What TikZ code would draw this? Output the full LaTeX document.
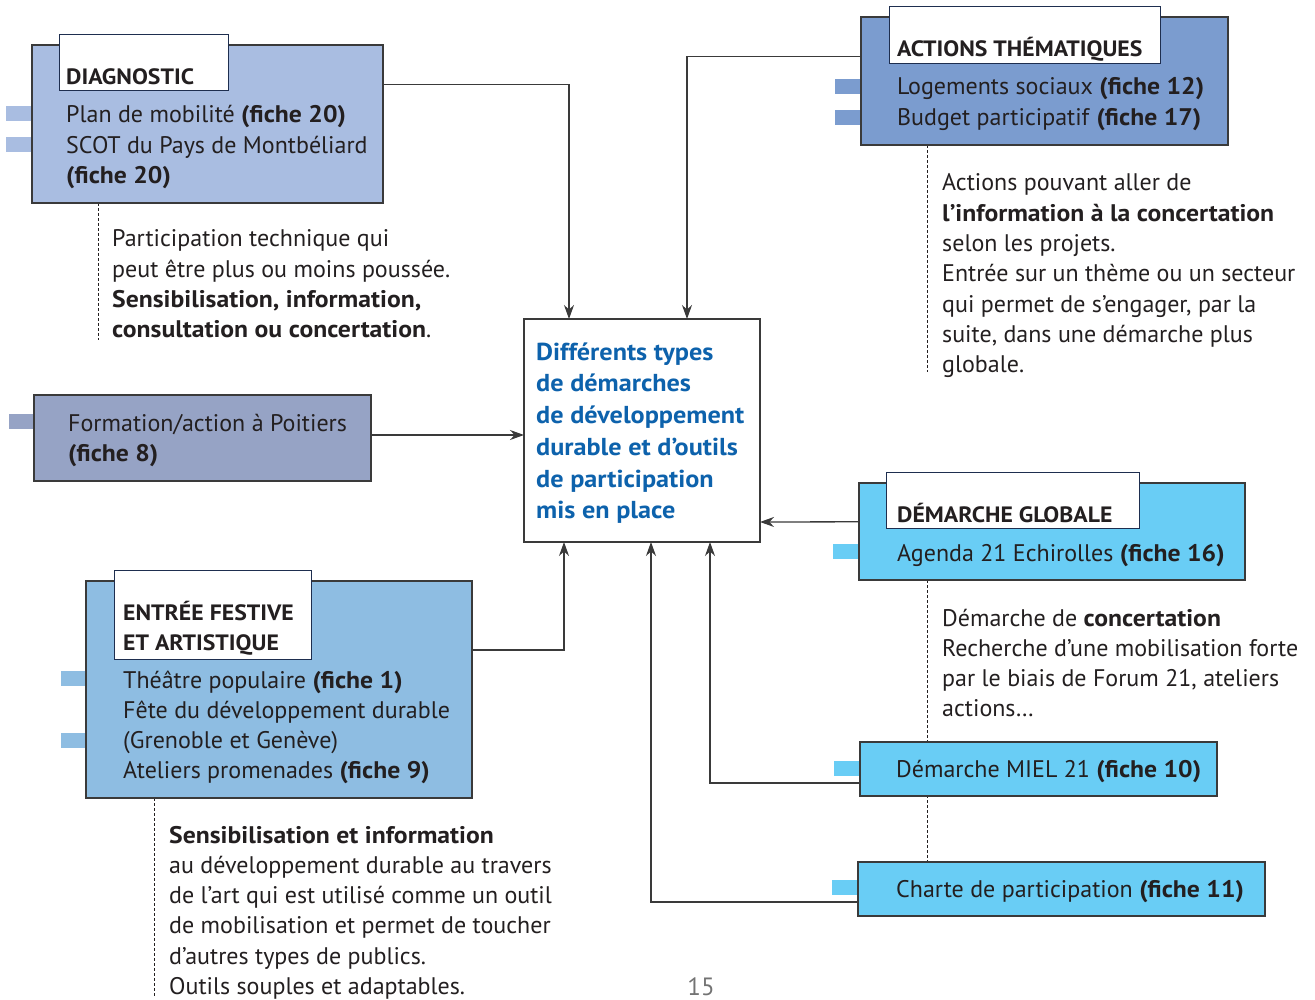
\documentclass[tikz,border=0pt]{standalone}
\usepackage{fontspec}
\setmainfont{PT Sans}[BoldFeatures={FakeStretch=1.07}]
\usetikzlibrary{calc,arrows.meta,backgrounds}
\definecolor{diagc}{HTML}{A9BDE1}
\definecolor{formc}{HTML}{96A3C5}
\definecolor{actc}{HTML}{7B9CCF}
\definecolor{festc}{HTML}{8EBDE2}
\definecolor{globc}{HTML}{69CDF5}
\definecolor{edgec}{HTML}{3A3A3A}
\definecolor{tabedge}{HTML}{1E2E4F}
\definecolor{txt}{HTML}{231F20}
\definecolor{centc}{HTML}{0D62AC}
\newcommand{\ptxt}[2][30cm]{\parbox[t]{#1}{\raggedright #2}}
\tikzset{
  x=1pt, y=-1pt,
  boxshape/.style={draw=edgec, line width=1.3pt, anchor=north west, inner sep=0pt, outer sep=0pt},
  tabshape/.style={draw=tabedge, fill=white, line width=1pt, anchor=north west, inner sep=0pt, outer sep=0pt},
  barshape/.style={anchor=north west, inner sep=0pt, outer sep=0pt, minimum width=26pt, minimum height=15pt},
  body/.style={anchor=base west, inner sep=0pt, text=txt, font=\fontsize{24}{30.3}\selectfont},
  ttl/.style={anchor=base west, inner sep=0pt, text=txt, font=\fontsize{22.2}{30.3}\selectfont\bfseries},
  cent/.style={anchor=base west, inner sep=0pt, text=centc, font=\fontsize{24.5}{31.8}\selectfont\bfseries},
  conn/.style={draw=edgec, line width=1.3pt, -{Stealth[length=14pt,width=10pt]}},
  dashconn/.style={draw=txt, line width=1pt, dash pattern=on 3pt off 2pt},
}
\begin{document}
\begin{tikzpicture}
\useasboundingbox (0,0) rectangle (1315,1000);

% ---------- DIAGNOSTIC ----------
\node[barshape, fill=diagc] (db1) at (6,106) {};
\node[barshape, fill=diagc] (db2) at (6,137) {};
\node[boxshape, fill=diagc, minimum width=351pt, minimum height=158pt] (diag) at (32,45) {};
\node[tabshape, minimum width=169pt, minimum height=56pt] (diagtab) at (59,35) {};
\node[ttl] (diagt) at (66,85) {DIAGNOSTIC};
\node[body] (diagl) at (66,123) {\ptxt{Plan de mobilité \textbf{(fiche 20)}\\SCOT du Pays de Montbéliard\\\textbf{(fiche 20)}}};
\node[body] (diagn) at (112,247) {\ptxt{Participation technique qui\\peut être plus ou moins poussée.\\\textbf{Sensibilisation, information,}\\\textbf{consultation ou concertation}.}};

% ---------- FORMATION ----------
\node[barshape, fill=formc] (fb1) at (9,414) {};
\node[boxshape, fill=formc, minimum width=337pt, minimum height=86pt] (form) at (34,395) {};
\node[body] (forml) at (68,431) {\ptxt{Formation/action à Poitiers\\\textbf{(fiche 8)}}};

% ---------- CENTRE ----------
\node[boxshape, fill=white, minimum width=236pt, minimum height=223pt] (center) at (524,319) {};
\node[cent] (centt) at (536,360) {\ptxt{Différents types\\de démarches\\de développement\\durable et d’outils\\de participation\\mis en place}};

% ---------- ACTIONS THEMATIQUES ----------
\node[barshape, fill=actc] (ab1) at (835,79) {};
\node[barshape, fill=actc] (ab2) at (835,110) {};
\node[boxshape, fill=actc, minimum width=367pt, minimum height=128pt] (act) at (861,17) {};
\node[tabshape, minimum width=271pt, minimum height=57pt] (acttab) at (889,7) {};
\node[ttl] (actt) at (897,57) {ACTIONS THÉMATIQUES};
\node[body] (actl) at (897,95) {\ptxt{Logements sociaux \textbf{(fiche 12)}\\Budget participatif \textbf{(fiche 17)}}};
\node[body] (actn) at (942,191) {\ptxt{Actions pouvant aller de\\\textbf{l’information à la concertation}\\selon les projets.\\Entrée sur un thème ou un secteur\\qui permet de s’engager, par la\\suite, dans une démarche plus\\globale.}};

% ---------- DEMARCHE GLOBALE ----------
\node[barshape, fill=globc] (gb1) at (833,544) {};
\node[boxshape, fill=globc, minimum width=386pt, minimum height=97pt] (glob) at (859,483) {};
\node[tabshape, minimum width=253pt, minimum height=56pt] (globtab) at (886,472) {};
\node[ttl] (globt) at (897,522) {DÉMARCHE GLOBALE};
\node[body] (globl) at (897,561) {Agenda 21 Echirolles \textbf{(fiche 16)}};
\node[body] (globn) at (942,626) {\ptxt{Démarche de \textbf{concertation}\\Recherche d’une mobilisation forte\\par le biais de Forum 21, ateliers\\actions…}};

% ---------- MIEL ----------
\node[barshape, fill=globc] (mb1) at (834,761) {};
\node[boxshape, fill=globc, minimum width=357pt, minimum height=54pt] (miel) at (860,742) {};
\node[body] (miell) at (896,777) {Démarche MIEL 21 \textbf{(fiche 10)}};

% ---------- CHARTE ----------
\node[barshape, fill=globc] (cb1) at (832,880) {};
\node[boxshape, fill=globc, minimum width=407pt, minimum height=54pt] (charte) at (858,862) {};
\node[body] (chartel) at (896,897) {Charte de participation \textbf{(fiche 11)}};

% ---------- ENTREE FESTIVE ----------
\node[barshape, fill=festc] (eb1) at (61,671) {};
\node[barshape, fill=festc] (eb2) at (61,733) {};
\node[boxshape, fill=festc, minimum width=386pt, minimum height=217pt] (fest) at (86,581) {};
\node[tabshape, minimum width=197pt, minimum height=89pt] (festtab) at (114,570) {};
\node[ttl] (festt) at (123,620) {\ptxt{ENTRÉE FESTIVE\\ET ARTISTIQUE}};
\node[body] (festl) at (123,688) {\ptxt{Théâtre populaire \textbf{(fiche 1)}\\Fête du développement durable\\(Grenoble et Genève)\\Ateliers promenades \textbf{(fiche 9)}}};
\node[body] (festn) at (169,843) {\ptxt{\textbf{Sensibilisation et information}\\au développement durable au travers\\de l’art qui est utilisé comme un outil\\de mobilisation et permet de toucher\\d’autres types de publics.\\Outils souples et adaptables.}};

% ---------- page number ----------
\node[anchor=north, inner sep=0pt, text=black!55, font=\fontsize{25}{25}\selectfont] (pnum) at (701,977) {15};

% ---------- dashed guides ----------
\begin{scope}[on background layer]
\draw[dashconn] (diag.south -| 98,0) -- (98,340);
\draw[dashconn] (act.south -| 927,0) -- (927,372);
\draw[dashconn] (glob.south -| 927,0) -- (charte.north -| 927,0);
\draw[dashconn] (fest.south -| 154,0) -- (154,996);
\end{scope}

% ---------- connectors ----------
\draw[conn] ($(diag.north east)!0.252!(diag.south east)$) -| (center.north -| 569,0);
\draw[conn] ($(act.north west)!0.31!(act.south west)$) -| (center.north -| 687,0);
\draw[conn] (form.east |- 0,435) -- (center.west |- 0,435);
\draw[conn] ($(glob.north west)!0.4!(glob.south west)$) -- (center.east |- 0,522);
\draw[conn] ($(fest.north east)!0.318!(fest.south east)$) -| (center.south -| 564,0);
\draw[conn] ($(charte.north west)!0.74!(charte.south west)$) -| (center.south -| 651,0);
\draw[conn] ($(miel.north west)!0.76!(miel.south west)$) -| (center.south -| 710,0);
\end{tikzpicture}
\end{document}
